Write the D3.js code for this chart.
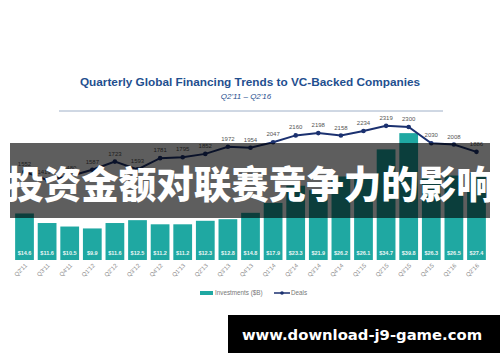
<!DOCTYPE html>
<html>
<head>
<meta charset="utf-8">
<script src="https://cdn.jsdelivr.net/npm/d3@7"></script>
<style>
  body { margin: 0; background: #fff; }
  svg { display: block; }
</style>
</head>
<body>
<div id="chart"></div>
<script>
// quarters Q2'11 .. Q2'16
var quarters = ["Q2'11", "Q3'11", "Q4'11", "Q1'12", "Q2'12", "Q3'12", "Q4'12",
    "Q1'13", "Q2'13", "Q3'13", "Q4'13", "Q1'14", "Q2'14", "Q3'14", "Q4'14",
    "Q1'15", "Q2'15", "Q3'15", "Q4'15", "Q1'16", "Q2'16"];
var investments = [14.6, 11.6, 10.5, 9.9, 11.6, 12.5, 11.2, 11.2, 12.3, 12.8, 14.8,
    17.9, 23.3, 21.9, 26.2, 26.1, 34.7, 39.8, 26.3, 26.5, 27.4];
var deals = [1552, 1419, 1480, 1587, 1723, 1593, 1781, 1795, 1852, 1972, 1954,
    2047, 2160, 2198, 2158, 2234, 2319, 2300, 2030, 2008, 1886];

var svg = d3.select("#chart").append("svg").attr("width", 500).attr("height", 362);

var x = d3.scaleBand().domain(quarters).range([14, 487]).paddingInner(0.17).paddingOuter(0.05);
var yBar = d3.scaleLinear().domain([0, 40]).range([260, 132.5]);
var yLine = d3.scaleLinear().domain([1400, 2400]).range([181, 121]);

// title
svg.append("text")
    .attr("x", 250).attr("y", 86)
    .attr("text-anchor", "middle")
    .style("font-family", "Liberation Sans, Arial, sans-serif")
    .style("font-weight", "bold")
    .style("font-size", "11.8px")
    .style("fill", "#1f4f8f")
    .text("Quarterly Global Financing Trends to VC-Backed Companies");
svg.append("text")
    .attr("x", 246).attr("y", 98.5)
    .attr("text-anchor", "middle")
    .style("font-family", "Liberation Sans, Arial, sans-serif")
    .style("font-style", "italic")
    .style("font-size", "8px")
    .style("fill", "#1f4f8f")
    .text("Q2'11 \u2013 Q2'16");
svg.append("line")
    .attr("x1", 59).attr("x2", 443).attr("y1", 111).attr("y2", 111)
    .style("stroke", "#9fb0c8").style("stroke-width", 1);

// bars
svg.append("g")
    .selectAll("rect")
    .data(investments)
    .enter().append("rect")
    .attr("x", function(d, i) { return x(quarters[i]); })
    .attr("y", function(d) { return yBar(d); })
    .attr("width", x.bandwidth())
    .attr("height", function(d) { return yBar(0) - yBar(d); })
    .style("fill", "#1fa8a2");

svg.append("g")
    .selectAll("text")
    .data(investments)
    .enter().append("text")
    .attr("x", function(d, i) { return x(quarters[i]) + x.bandwidth() / 2; })
    .attr("y", 255)
    .attr("text-anchor", "middle")
    .style("font-family", "Liberation Sans, Arial, sans-serif")
    .style("font-size", "5.5px")
    .style("font-weight", "bold")
    .style("fill", "#e8f6f5")
    .text(function(d) { return "$" + d; });

// x labels, rotated
svg.append("g")
    .selectAll("text")
    .data(quarters)
    .enter().append("text")
    .attr("transform", function(d) {
        return "translate(" + (x(d) + x.bandwidth() / 2 + 3) + ",266) rotate(-45)";
    })
    .attr("text-anchor", "end")
    .style("font-family", "Liberation Sans, Arial, sans-serif")
    .style("font-size", "6px")
    .style("fill", "#8a8a8a")
    .text(function(d) { return d; });

// deals line
var line = d3.line()
    .x(function(d, i) { return x(quarters[i]) + x.bandwidth() / 2; })
    .y(function(d) { return yLine(d); });
svg.append("path")
    .datum(deals)
    .attr("d", line)
    .style("fill", "none")
    .style("stroke", "#1b3170")
    .style("stroke-width", 2);
svg.append("g")
    .selectAll("circle")
    .data(deals)
    .enter().append("circle")
    .attr("cx", function(d, i) { return x(quarters[i]) + x.bandwidth() / 2; })
    .attr("cy", function(d) { return yLine(d); })
    .attr("r", 2.3)
    .style("fill", "#1b3170");
svg.append("g")
    .selectAll("text")
    .data(deals)
    .enter().append("text")
    .attr("x", function(d, i) { return x(quarters[i]) + x.bandwidth() / 2 + (i === 1 ? -3 : 0); })
    .attr("y", function(d) { return yLine(d) - 6; })
    .attr("text-anchor", "middle")
    .style("font-family", "Liberation Sans, Arial, sans-serif")
    .style("font-size", "6px")
    .style("fill", "#555")
    .text(function(d) { return d; });

// legend
var lg = svg.append("g").attr("transform", "translate(200,293)");
lg.append("rect").attr("x", 0).attr("y", -2).attr("width", 13).attr("height", 4).style("fill", "#1fa8a2");
lg.append("text").attr("x", 15).attr("y", 2.2)
    .style("font-family", "Liberation Sans, Arial, sans-serif")
    .style("font-size", "6.3px").style("fill", "#777")
    .text("Investments ($B)");
lg.append("line").attr("x1", 74).attr("x2", 90).attr("y1", 0).attr("y2", 0)
    .style("stroke", "#1b3170").style("stroke-width", 1.5);
lg.append("circle").attr("cx", 82).attr("cy", 0).attr("r", 1.8).style("fill", "#1b3170");
lg.append("text").attr("x", 91).attr("y", 2.2)
    .style("font-family", "Liberation Sans, Arial, sans-serif")
    .style("font-size", "6.3px").style("fill", "#777")
    .text("Deals");

// overlay banner
svg.append("rect")
    .attr("x", 10).attr("y", 143).attr("width", 480).attr("height", 75)
    .style("fill", "rgba(0,0,0,0.63)");
svg.append("text")
    .attr("x", 250).attr("y", 198)
    .attr("text-anchor", "middle")
    .style("font-family", "Noto Sans CJK SC, sans-serif")
    .style("font-weight", "900")
    .style("font-size", "37.5px")
    .style("fill", "#fff")
    .text("投资金额对联赛竞争力的影响");

// watermark
svg.append("rect")
    .attr("x", 228).attr("y", 315).attr("width", 272).attr("height", 38)
    .style("fill", "#000");
svg.append("text")
    .attr("x", 362).attr("y", 340)
    .attr("text-anchor", "middle")
    .style("font-family", "DejaVu Sans, sans-serif")
    .style("font-weight", "bold")
    .style("font-size", "14.8px")
    .style("fill", "#fff")
    .text("www.download-j9-game.com");
</script>
</body>
</html>
